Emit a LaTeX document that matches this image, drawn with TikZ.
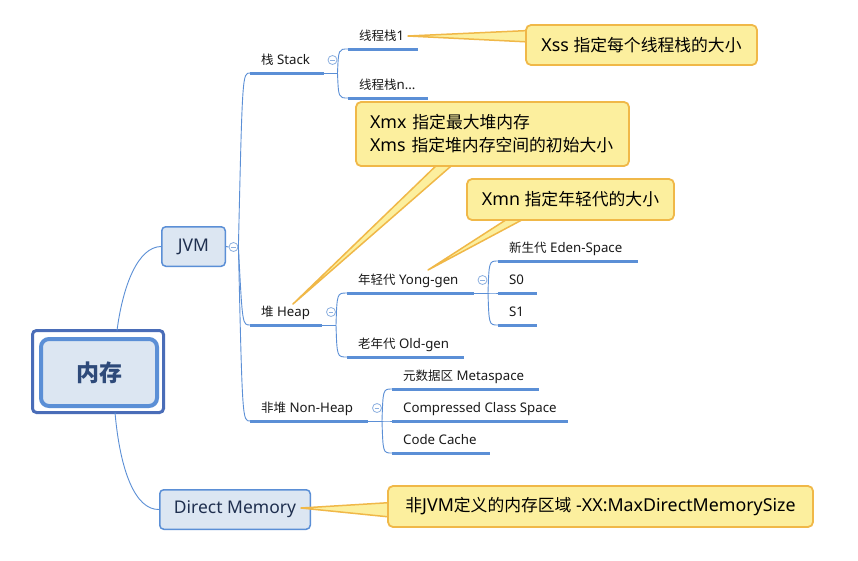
\documentclass[tikz,border=0pt]{standalone}
\usepackage{fontspec}
\setmainfont{Noto Sans}[Scale=1.06]
\newfontfamily\cjkfont{Noto Sans CJK SC}
\newcommand{\zh}[1]{{\cjkfont #1}}
\usetikzlibrary{calc}
\definecolor{lineblue}{HTML}{5B8FD6}
\definecolor{boxfill}{HTML}{DCE6F2}
\definecolor{rootout}{HTML}{4A6DB8}
\definecolor{cfill}{HTML}{FCEF9E}
\definecolor{cborder}{HTML}{F0B848}
\definecolor{txt}{HTML}{1A1A1A}
\definecolor{boxtxt}{HTML}{1F2F4F}
\definecolor{roottxt}{HTML}{2E4A7A}
\definecolor{circ}{HTML}{8DB0E0}
\newcommand{\ultext}[2]{\makebox[#1pt][l]{\hspace{11pt}#2}}
\tikzset{
  rootin/.style={draw=lineblue, line width=4pt, fill=boxfill, rounded corners=8pt,
    minimum width=116pt, minimum height=67pt, inner sep=0pt, text=roottxt,
    font=\cjkfont\fontsize{23}{26}\selectfont\bfseries},
  rootouter/.style={draw=rootout, line width=3pt, rounded corners=4pt},
  lvlone/.style={draw=lineblue, line width=1.5pt, fill=boxfill, rounded corners=4pt,
    inner sep=0pt, text=boxtxt, font=\fontsize{16.5}{20}\selectfont},
  ul/.style={anchor=south west, inner xsep=0pt, inner ysep=4pt, text depth=4pt,
    text height=10pt, text=txt, font=\fontsize{12.5}{15}\selectfont},
  uline/.style={draw=lineblue, line width=3pt},
  conn/.style={draw=lineblue, line width=0.9pt},
  collapse/.style={circle, draw=circ, line width=0.8pt, fill=white, minimum size=9pt,
    inner sep=0pt, path picture={\draw[circ, line width=0.8pt]
      ([xshift=-2.3pt]path picture bounding box.center) -- ([xshift=2.3pt]path picture bounding box.center);}},
  callout/.style={draw=cborder, line width=1.8pt, fill=cfill, rounded corners=5pt,
    inner sep=0pt, text=black, font=\fontsize{16.8}{23}\selectfont},
  wedge/.style={draw=cborder, line width=1.5pt, fill=cfill, line join=round},
}
\begin{document}
\begin{tikzpicture}[x=1pt,y=-1pt]
\useasboundingbox[fill=white] (0,0) rectangle (858,560);

% root
\node[rootin] (root) at (99,372.5) {内存};
\draw[rootouter] ($(root.north west)+(-6.5,-6.5)$) rectangle ($(root.south east)+(4.5,4.5)$);

% level 1
\node[lvlone, minimum width=63.5pt, minimum height=39.5pt] (jvm) at (193.5,246.5) {JVM};
\node[lvlone, minimum width=150.5pt, minimum height=39.5pt] (dm) at (235,509.5) {Direct Memory};

\draw[conn] ([xshift=18pt,yshift=6.5pt]root.north) .. controls (123,285) and (138,247) .. (jvm.west);
\draw[conn] ([xshift=16pt,yshift=-4.5pt]root.south) .. controls (120,470) and (135,510) .. (dm.west);

% JVM collapse
\node[collapse] (cj) at (233.5,247) {};
\draw[conn] (jvm.east) -- (cj.west);

% level 2
\node[ul] (stack) at (250,73) {\ultext{74}{\zh{栈} Stack}};
\node[ul] (heap) at (250,325) {\ultext{72}{\zh{堆} Heap}};
\node[ul] (nonheap) at (250,421) {\ultext{118}{\zh{非堆} Non-Heap}};
\foreach \n in {stack,heap,nonheap}{
  \draw[uline] (\n.south west) -- (\n.south east);
  \draw[conn] (cj.east) .. controls ($(cj.east |- \n.south west)+(4,0)$) .. (\n.south west);
}

% stack children
\node[collapse] (cs) at (332.5,60) {};
\coordinate (js) at (337.5,73);
\draw[conn] (stack.south east) -- (js);
\node[ul] (t1) at (348,49) {\ultext{70}{\zh{线程栈}1}};
\node[ul] (tn) at (348,98) {\ultext{80}{\zh{线程栈}n...}};
\foreach \n in {t1,tn}{
  \draw[uline] (\n.south west) -- (\n.south east);
  \draw[conn] (js) .. controls ($(js |- \n.south west)+(1,0)$) .. (\n.south west);
}

% heap children
\node[collapse] (ch) at (331,312) {};
\coordinate (jh) at (336,325);
\draw[conn] (heap.south east) -- (jh);
\node[ul] (yong) at (347,293) {\ultext{127}{\zh{年轻代} Yong-gen}};
\node[ul] (old) at (347,357) {\ultext{117}{\zh{老年代} Old-gen}};
\foreach \n in {yong,old}{
  \draw[uline] (\n.south west) -- (\n.south east);
  \draw[conn] (jh) .. controls ($(jh |- \n.south west)+(1,0)$) .. (\n.south west);
}

% yong children
\node[collapse] (cy) at (482.5,280) {};
\coordinate (jy) at (488,293);
\draw[conn] (yong.south east) -- (jy);
\node[ul] (eden) at (498,261) {\ultext{140}{\zh{新生代} Eden-Space}};
\node[ul] (s0) at (498,293) {\ultext{39}{S0}};
\node[ul] (s1) at (498,325) {\ultext{39}{S1}};
\foreach \n in {eden,s0,s1}{
  \draw[uline] (\n.south west) -- (\n.south east);
  \draw[conn] (jy) .. controls ($(jy |- \n.south west)+(1,0)$) .. (\n.south west);
}

% non-heap children
\node[collapse] (cn) at (377,408) {};
\coordinate (jn) at (382,421);
\draw[conn] (nonheap.south east) -- (jn);
\node[ul] (meta) at (392,389) {\ultext{147}{\zh{元数据区} Metaspace}};
\node[ul] (ccs) at (392,421) {\ultext{176}{Compressed Class Space}};
\node[ul] (cc) at (392,453) {\ultext{98}{Code Cache}};
\foreach \n in {meta,ccs,cc}{
  \draw[uline] (\n.south west) -- (\n.south east);
  \draw[conn] (jn) .. controls ($(jn |- \n.south west)+(1,0)$) .. (\n.south west);
}

% callout tips
\coordinate (tipxss) at (408,36);
\coordinate (tipxmx) at (293,304);
\coordinate (tipxmn) at (428,270);
\coordinate (tipdm) at (301,508);

% wedges
\draw[wedge] (tipxss) -- (540,30) -- (540,42.5) -- cycle;
\draw[wedge] (tipxmx) -- (442,160) -- (458,160) -- cycle;
\draw[wedge] (tipxmn) -- (515,214) -- (533,214) -- cycle;
\draw[wedge] (tipdm) -- (400,502) -- (400,518) -- cycle;

% callouts
\node[callout, minimum width=231pt, minimum height=40pt] (xss) at (641.5,45) {Xss \zh{指定每个线程栈的大小}};
\node[callout, minimum width=273pt, minimum height=64pt, align=left, text width=245pt] (xmx) at (492.5,134) {Xmx \zh{指定最大堆内存}\\Xms \zh{指定堆内存空间的初始大小}};
\node[callout, minimum width=207pt, minimum height=41pt] (xmn) at (570.5,199.5) {Xmn \zh{指定年轻代的大小}};
\node[callout, minimum width=425pt, minimum height=41pt] (dmc) at (600.5,506.5) {\zh{非}JVM\zh{定义的内存区域} -XX:MaxDirectMemorySize};
\end{tikzpicture}
\end{document}
